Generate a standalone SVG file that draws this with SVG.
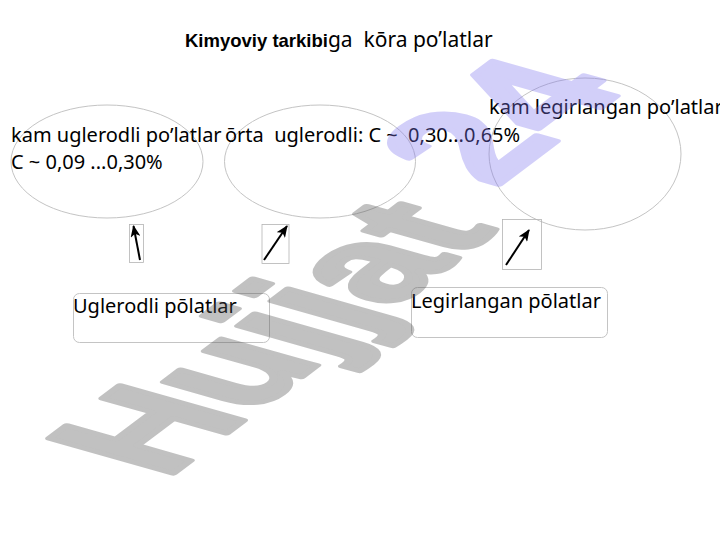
<svg xmlns="http://www.w3.org/2000/svg" width="720" height="540" viewBox="0 0 720 540">
<style>
.t{font-family:"Noto Sans","Open Sans",sans-serif;font-size:20px;fill:#000;white-space:pre}
.t21{font-family:"Noto Sans","Open Sans",sans-serif;font-size:21px;fill:#000;white-space:pre}
.b{font-family:"Liberation Sans",Arial,sans-serif;font-weight:bold;font-size:18.5px;fill:#000}
.el{fill:none;stroke:#c4c4c4;stroke-width:1}
.box{fill:none;stroke:#c4c4c4;stroke-width:1}
.ab{fill:none;stroke:#b4b4b4;stroke-width:0.8}
.ar{stroke:#000;stroke-width:2;fill:none;marker-end:url(#ah)}
.wm{font-family:"Liberation Sans",Arial,sans-serif;font-weight:bold;font-size:150px;stroke-width:6;stroke-linejoin:round}
</style>
<defs>
<marker id="ah" markerUnits="userSpaceOnUse" markerWidth="12" markerHeight="10" viewBox="0 0 12 10" refX="11" refY="5" orient="auto">
<path d="M0,0 L12,5 L0,10 L3,5 Z" fill="#000"/>
</marker>
</defs>
<g id="title">
<text x="185" y="47"><tspan class="b">Kimyoviy tarkibi</tspan><tspan class="t21">ga  kōra po’latlar</tspan></text>
</g>
<g id="node-kam-uglerodli">
<ellipse class="el" cx="107" cy="161.5" rx="96" ry="56.5"/>
<text class="t" x="11" y="142">kam uglerodli po’latlar</text>
<text class="t" x="11" y="169">C ~ 0,09 ...0,30%</text>
</g>
<g id="node-orta-uglerodli">
<ellipse class="el" cx="320" cy="161.5" rx="95.5" ry="56.5"/>
<text class="t" x="225" y="142">ōrta  uglerodli: C ~  0,30...0,65%</text>
</g>
<g id="node-kam-legirlangan">
<ellipse class="el" cx="585" cy="154" rx="96" ry="76"/>
<text class="t" x="489" y="114">kam legirlangan po’latlar</text>
</g>
<g id="node-uglerodli">
<rect class="box" x="73.5" y="293.5" width="196" height="49" rx="6"/>
<text class="t" x="73" y="313">Uglerodli pōlatlar</text>
</g>
<g id="node-legirlangan">
<rect class="box" x="411.5" y="287.5" width="196" height="50" rx="6"/>
<text class="t" x="411" y="308">Legirlangan pōlatlar</text>
</g>
<g id="connectors">
<rect class="ab" x="129.5" y="224.5" width="14" height="38"/>
<line class="ar" x1="140" y1="260" x2="133.5" y2="226"/>
<rect class="ab" x="262" y="224.5" width="27" height="39"/>
<line class="ar" x1="264" y1="260" x2="287" y2="226"/>
<rect class="ab" x="502.5" y="219.5" width="39" height="50"/>
<line class="ar" x1="506" y1="265" x2="529" y2="230"/>
</g>
<g id="watermark" transform="matrix(0.799 -0.602 1.2 0.34 165.3 479.6)">
<g opacity="0.36"><text class="wm" x="0" y="0" fill="#555" stroke="#555">Hujjat</text></g>
<g opacity="0.35"><text class="wm" x="465" y="-35" font-size="160" fill="#8177f0" stroke="#8177f0">24</text></g>
</g>
</svg>
